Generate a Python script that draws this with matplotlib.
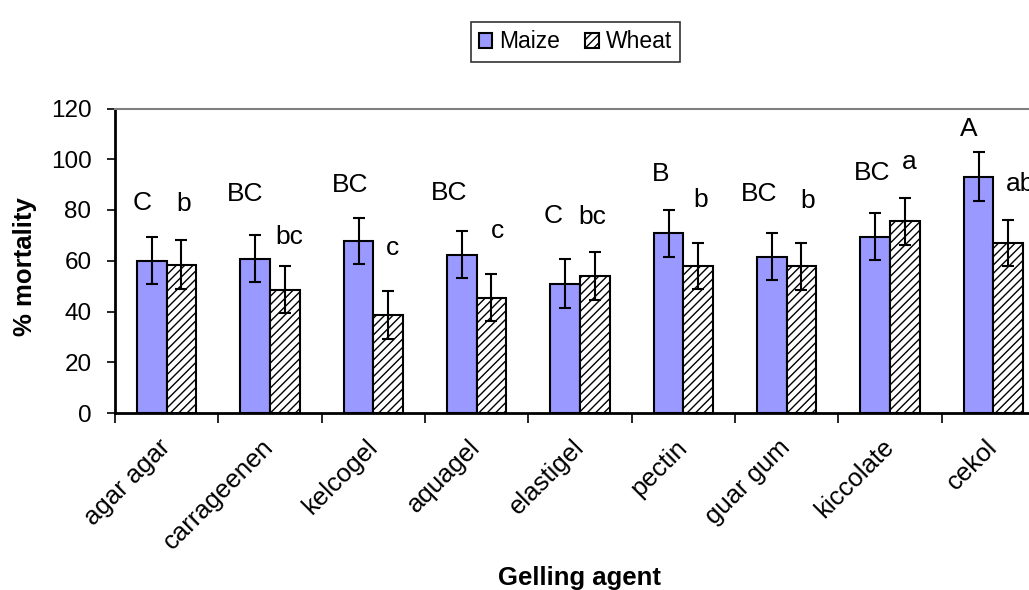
import matplotlib
matplotlib.use("Agg")
import matplotlib.pyplot as plt
import numpy as np

plt.rcParams['font.family'] = ['Liberation Sans', 'DejaVu Sans']
plt.rcParams['hatch.linewidth'] = 1.0

# Data
agents = ["agar agar", "carrageenen", "kelcogel", "aquagel", "elastigel",
          "pectin", "guar gum", "kiccolate", "cekol"]
maize = [60.0, 60.8, 67.8, 62.4, 50.9, 70.8, 61.6, 69.4, 93.2]
wheat = [58.5, 48.6, 38.6, 45.5, 54.0, 57.9, 57.8, 75.5, 67.0]
maize_err = [9.2, 9.3, 9.2, 9.2, 9.6, 9.25, 9.2, 9.3, 9.7]
wheat_err = [9.6, 9.3, 9.3, 9.3, 9.3, 9.2, 9.3, 9.2, 9.25]
maize_letters = ["C", "BC", "BC", "BC", "C", "B", "BC", "BC", "A"]
wheat_letters = ["b", "bc", "c", "c", "bc", "b", "b", "a", "ab"]
yticks = [0, 20, 40, 60, 80, 100, 120]

# Letter placement (x offset from category centre, baseline height)
maize_lbl_dx = [-0.236, -0.242, -0.226, -0.265, -0.261, -0.223, -0.268, -0.177, -0.235]
maize_lbl_y = [80.1, 83.7, 87.2, 84.1, 74.9, 91.3, 83.7, 91.7, 109.1]
wheat_lbl_dx = [0.165, 0.189, 0.188, 0.204, 0.123, 0.171, 0.200, 0.184, 0.26]
wheat_lbl_y = [79.5, 66.6, 62.3, 68.8, 74.6, 81.3, 80.8, 96.2, 87.4]

fig = plt.figure(figsize=(10.29, 5.90), dpi=100)
ax = fig.add_axes([115 / 1029, 1 - 413 / 590, 930 / 1029, 304.5 / 590])

x = np.arange(len(agents))
w = 1 / 3.5

ax.bar(x - w / 2, maize, w, color="#9999FF", edgecolor="black", linewidth=1.5,
       label="Maize", zorder=2)
ax.bar(x + w / 2, wheat, w, color="white", edgecolor="black", linewidth=1.5,
       hatch="////", label="Wheat", zorder=2)
ax.errorbar(x - w / 2, maize, yerr=maize_err, fmt="none", ecolor="black",
            elinewidth=1.5, capsize=4.5, capthick=1.5, zorder=3)
ax.errorbar(x + w / 2, wheat, yerr=wheat_err, fmt="none", ecolor="black",
            elinewidth=1.5, capsize=4.5, capthick=1.5, zorder=3)

for i in range(len(agents)):
    ax.text(x[i] + maize_lbl_dx[i], maize_lbl_y[i], maize_letters[i],
            ha="center", va="baseline", fontsize=19, clip_on=False)
    ax.text(x[i] + wheat_lbl_dx[i], wheat_lbl_y[i], wheat_letters[i],
            ha="center", va="baseline", fontsize=19, clip_on=False)

ax.set_xlim(-0.5, len(agents) - 0.5)
ax.set_ylim(0, 120)
ax.set_yticks(yticks)
ax.tick_params(axis="y", labelsize=17.5, length=6, width=1.2, direction="out", pad=11)

ax.set_xticks(x)
ax.set_xticklabels(agents, rotation=45, ha="right", va="center",
                   rotation_mode="anchor", fontsize=18.5)
ax.tick_params(axis="x", which="major", length=0, pad=22)
ax.set_xticks(np.arange(len(agents) + 1) - 0.5, minor=True)
ax.tick_params(axis="x", which="minor", length=7, width=1.2, direction="out")

ax.spines["left"].set_linewidth(2)
ax.spines["bottom"].set_linewidth(2)
ax.spines["top"].set_color("#808080")
ax.spines["top"].set_linewidth(1.5)
ax.spines["right"].set_color("#808080")

fig.text(25 / 1029, 1 - 266.7 / 590, "% mortality", ha="center", va="center",
         rotation=90, fontsize=18.5, fontweight="bold")
fig.text(580 / 1029, 1 - 578 / 590, "Gelling agent", ha="center", va="center",
         fontsize=18.5, fontweight="bold")

leg = fig.legend(loc="center", bbox_to_anchor=(575.5 / 1029, 1 - 42 / 590),
                 ncol=2, fontsize=16.5, frameon=True, fancybox=False,
                 edgecolor="black", handlelength=0.6, handleheight=0.6,
                 handletextpad=0.3, columnspacing=1.1, borderpad=0.35)
leg.get_frame().set_linewidth(1.2)

fig.savefig("out.png", dpi=100)
